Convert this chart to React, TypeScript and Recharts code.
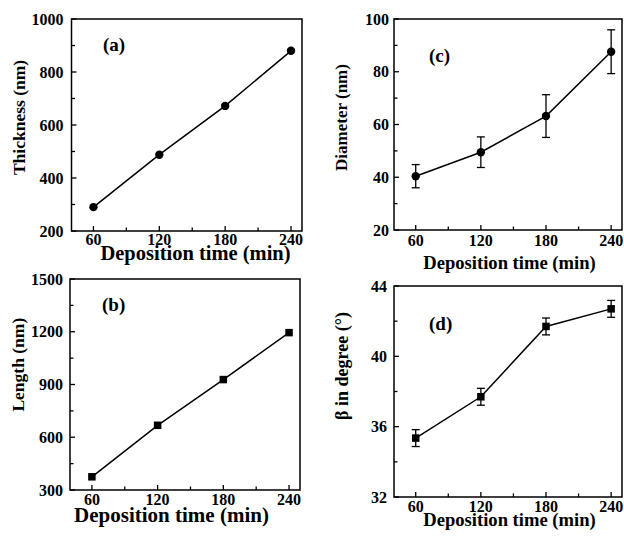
import React from 'react';
import { LineChart, Line, XAxis, YAxis, ErrorBar, ReferenceArea } from 'recharts';

// deposition time (min)
const times = [60, 120, 180, 240];
const xTicks = [60, 90, 120, 150, 180, 210, 240];
const xMajor = [60, 120, 180, 240];

// (a) thickness (nm)
const thickness = [290, 488, 672, 880];
const thicknessTicks = [200, 300, 400, 500, 600, 700, 800, 900, 1000];
const thicknessMajor = [200, 400, 600, 800, 1000];

// (b) length (nm)
const lengths = [375, 668, 928, 1195];
const lengthTicks = [300, 450, 600, 750, 900, 1050, 1200, 1350, 1500];
const lengthMajor = [300, 600, 900, 1200, 1500];

// (c) diameter (nm) with error
const diameter = [40.4, 49.5, 63.2, 87.6];
const diameterErr = [4.4, 5.8, 8.1, 8.3];
const diameterTicks = [20, 30, 40, 50, 60, 70, 80, 90, 100];
const diameterMajor = [20, 40, 60, 80, 100];

// (d) beta (degree) with error
const beta = [35.35, 37.7, 41.7, 42.7];
const betaErr = [0.48, 0.48, 0.48, 0.48];
const betaTicks = [32, 34, 36, 38, 40, 42, 44];
const betaMajor = [32, 36, 40, 44];

const FONT = '"Liberation Serif", "Times New Roman", serif';
const INK = '#000';

const bottomTick = (dy: number) => (props: any) => {
  const { x, y, payload } = props;
  const major = xMajor.includes(payload.value);
  return (
    <g>
      <line x1={x} y1={y} x2={x} y2={y - (major ? 5 : 3.5)} stroke={INK} strokeWidth={1.3} />
      {major && (
        <text x={x} y={y + dy} textAnchor="middle" fontFamily={FONT} fontWeight="bold" fontSize={16} fill={INK}>
          {payload.value}
        </text>
      )}
    </g>
  );
};

const topTick = (props: any) => {
  const { x, y, payload } = props;
  const major = xMajor.includes(payload.value);
  return <line x1={x} y1={y} x2={x} y2={y + (major ? 5 : 3.5)} stroke={INK} strokeWidth={1.3} />;
};

const leftTick = (majorList: number[], gap: number) => (props: any) => {
  const { x, y, payload } = props;
  const major = majorList.includes(payload.value);
  return (
    <g>
      <line x1={x} y1={y} x2={x + (major ? 5 : 3.5)} y2={y} stroke={INK} strokeWidth={1.3} />
      {major && (
        <text x={x - gap} y={y + 5.5} textAnchor="end" fontFamily={FONT} fontWeight="bold" fontSize={16} fill={INK}>
          {payload.value}
        </text>
      )}
    </g>
  );
};

const squareDot = (size: number) => (props: any) => {
  const { cx, cy, index } = props;
  return <rect key={index} x={cx - size / 2} y={cy - size / 2} width={size} height={size} fill={INK} />;
};

interface PanelProps {
  values: number[];
  errors?: number[];
  yDomain: [number, number];
  yTicks: number[];
  yMajor: number[];
  left: number;
  top: number;
  plotLeft: number;
  plotRight: number;
  plotTop: number;
  plotBottom: number;
  labelGap: number;
  tickDy: number;
  square?: boolean;
}

const W = 312;
const H = 268;

const Panel: React.FC<PanelProps> = ({
  values, errors, yDomain, yTicks, yMajor, left, top,
  plotLeft, plotRight, plotTop, plotBottom, labelGap, tickDy, square,
}) => {
  const rows = times.map((t, i) => ({ t, v: values[i], err: errors ? errors[i] : 0 }));
  return (
    <div style={{ position: 'absolute', left, top, width: W, height: H }}>
      <LineChart
        width={W}
        height={H}
        data={rows}
        margin={{ top: plotTop, right: W - plotRight, bottom: 0, left: 0 }}
      >
        <XAxis
          dataKey="t"
          type="number"
          domain={[40, 250]}
          ticks={xTicks}
          interval={0}
          height={H - plotBottom}
          tickSize={0}
          tickMargin={0}
          axisLine={false}
          tickLine={false}
          tick={bottomTick(tickDy)}
        />
        <XAxis
          xAxisId="top"
          orientation="top"
          dataKey="t"
          type="number"
          domain={[40, 250]}
          ticks={xTicks}
          interval={0}
          height={0}
          tickSize={0}
          tickMargin={0}
          axisLine={false}
          tickLine={false}
          tick={topTick}
        />
        <YAxis
          type="number"
          domain={yDomain}
          ticks={yTicks}
          interval={0}
          width={plotLeft}
          tickSize={0}
          tickMargin={0}
          axisLine={false}
          tickLine={false}
          tick={leftTick(yMajor, labelGap)}
        />
        <ReferenceArea
          x1={40}
          x2={250}
          y1={yDomain[0]}
          y2={yDomain[1]}
          fill="none"
          fillOpacity={0}
          stroke={INK}
          strokeWidth={1.5}
        />
        <Line
          dataKey="v"
          type="linear"
          stroke={INK}
          strokeWidth={1.5}
          dot={square ? squareDot(7.5) : { r: 4.2, fill: INK, stroke: INK, strokeWidth: 0 }}
          isAnimationActive={false}
        >
          {errors && (
            <ErrorBar dataKey="err" width={4} stroke={INK} strokeWidth={1.3} isAnimationActive={false} />
          )}
        </Line>
      </LineChart>
    </div>
  );
};

const T = (p: { x: number; y: number; size: number; children: React.ReactNode; anchor?: string; rotate?: boolean }) => (
  <text
    x={p.x}
    y={p.y}
    fontFamily={FONT}
    fontWeight="bold"
    fontSize={p.size}
    fill={INK}
    textAnchor={p.anchor || 'start'}
    transform={p.rotate ? `rotate(-90, ${p.x}, ${p.y})` : undefined}
  >
    {p.children}
  </text>
);

export default function App() {
  return (
    <div style={{ position: 'absolute', left: 0, top: 0, width: 624, height: 536, background: '#fff', overflow: 'hidden' }}>
      <Panel values={thickness} yDomain={[200, 1000]} yTicks={thicknessTicks} yMajor={thicknessMajor}
        left={0} top={0} plotLeft={71.5} plotRight={302} plotTop={19} plotBottom={231} labelGap={8} tickDy={14} />
      <Panel values={diameter} errors={diameterErr} yDomain={[20, 100]} yTicks={diameterTicks} yMajor={diameterMajor}
        left={312} top={0} plotLeft={82} plotRight={310} plotTop={19} plotBottom={230} labelGap={5} tickDy={15.5} />
      <Panel values={lengths} yDomain={[300, 1500]} yTicks={lengthTicks} yMajor={lengthMajor} square
        left={0} top={268} plotLeft={70} plotRight={300} plotTop={11} plotBottom={222} labelGap={7} tickDy={14.5} />
      <Panel values={beta} errors={betaErr} yDomain={[32, 44]} yTicks={betaTicks} yMajor={betaMajor} square
        left={312} top={268} plotLeft={82} plotRight={310} plotTop={18} plotBottom={229} labelGap={7} tickDy={15} />

      <svg width={624} height={536} style={{ position: 'absolute', left: 0, top: 0, pointerEvents: 'none' }}>
        <T x={195.5} y={260} size={20.5} anchor="middle">Deposition time (min)</T>
        <T x={509.5} y={268.5} size={18.6} anchor="middle">Deposition time (min)</T>
        <T x={171.5} y={521.5} size={21} anchor="middle">Deposition time (min)</T>
        <T x={509.5} y={526} size={18.6} anchor="middle">Deposition time (min)</T>

        <T x={24.5} y={117.5} size={17.5} anchor="middle" rotate>Thickness (nm)</T>
        <T x={346.5} y={117.5} size={17} anchor="middle" rotate>Diameter (nm)</T>
        <T x={24} y={364.7} size={17.5} anchor="middle" rotate>Length (nm)</T>
        <T x={347.5} y={366} size={18} anchor="middle" rotate>β in degree (°)</T>

        <T x={103} y={51} size={19}>(a)</T>
        <T x={429} y={61.5} size={19}>(c)</T>
        <T x={102} y={311} size={19}>(b)</T>
        <T x={429} y={329.5} size={19}>(d)</T>
      </svg>
    </div>
  );
}
